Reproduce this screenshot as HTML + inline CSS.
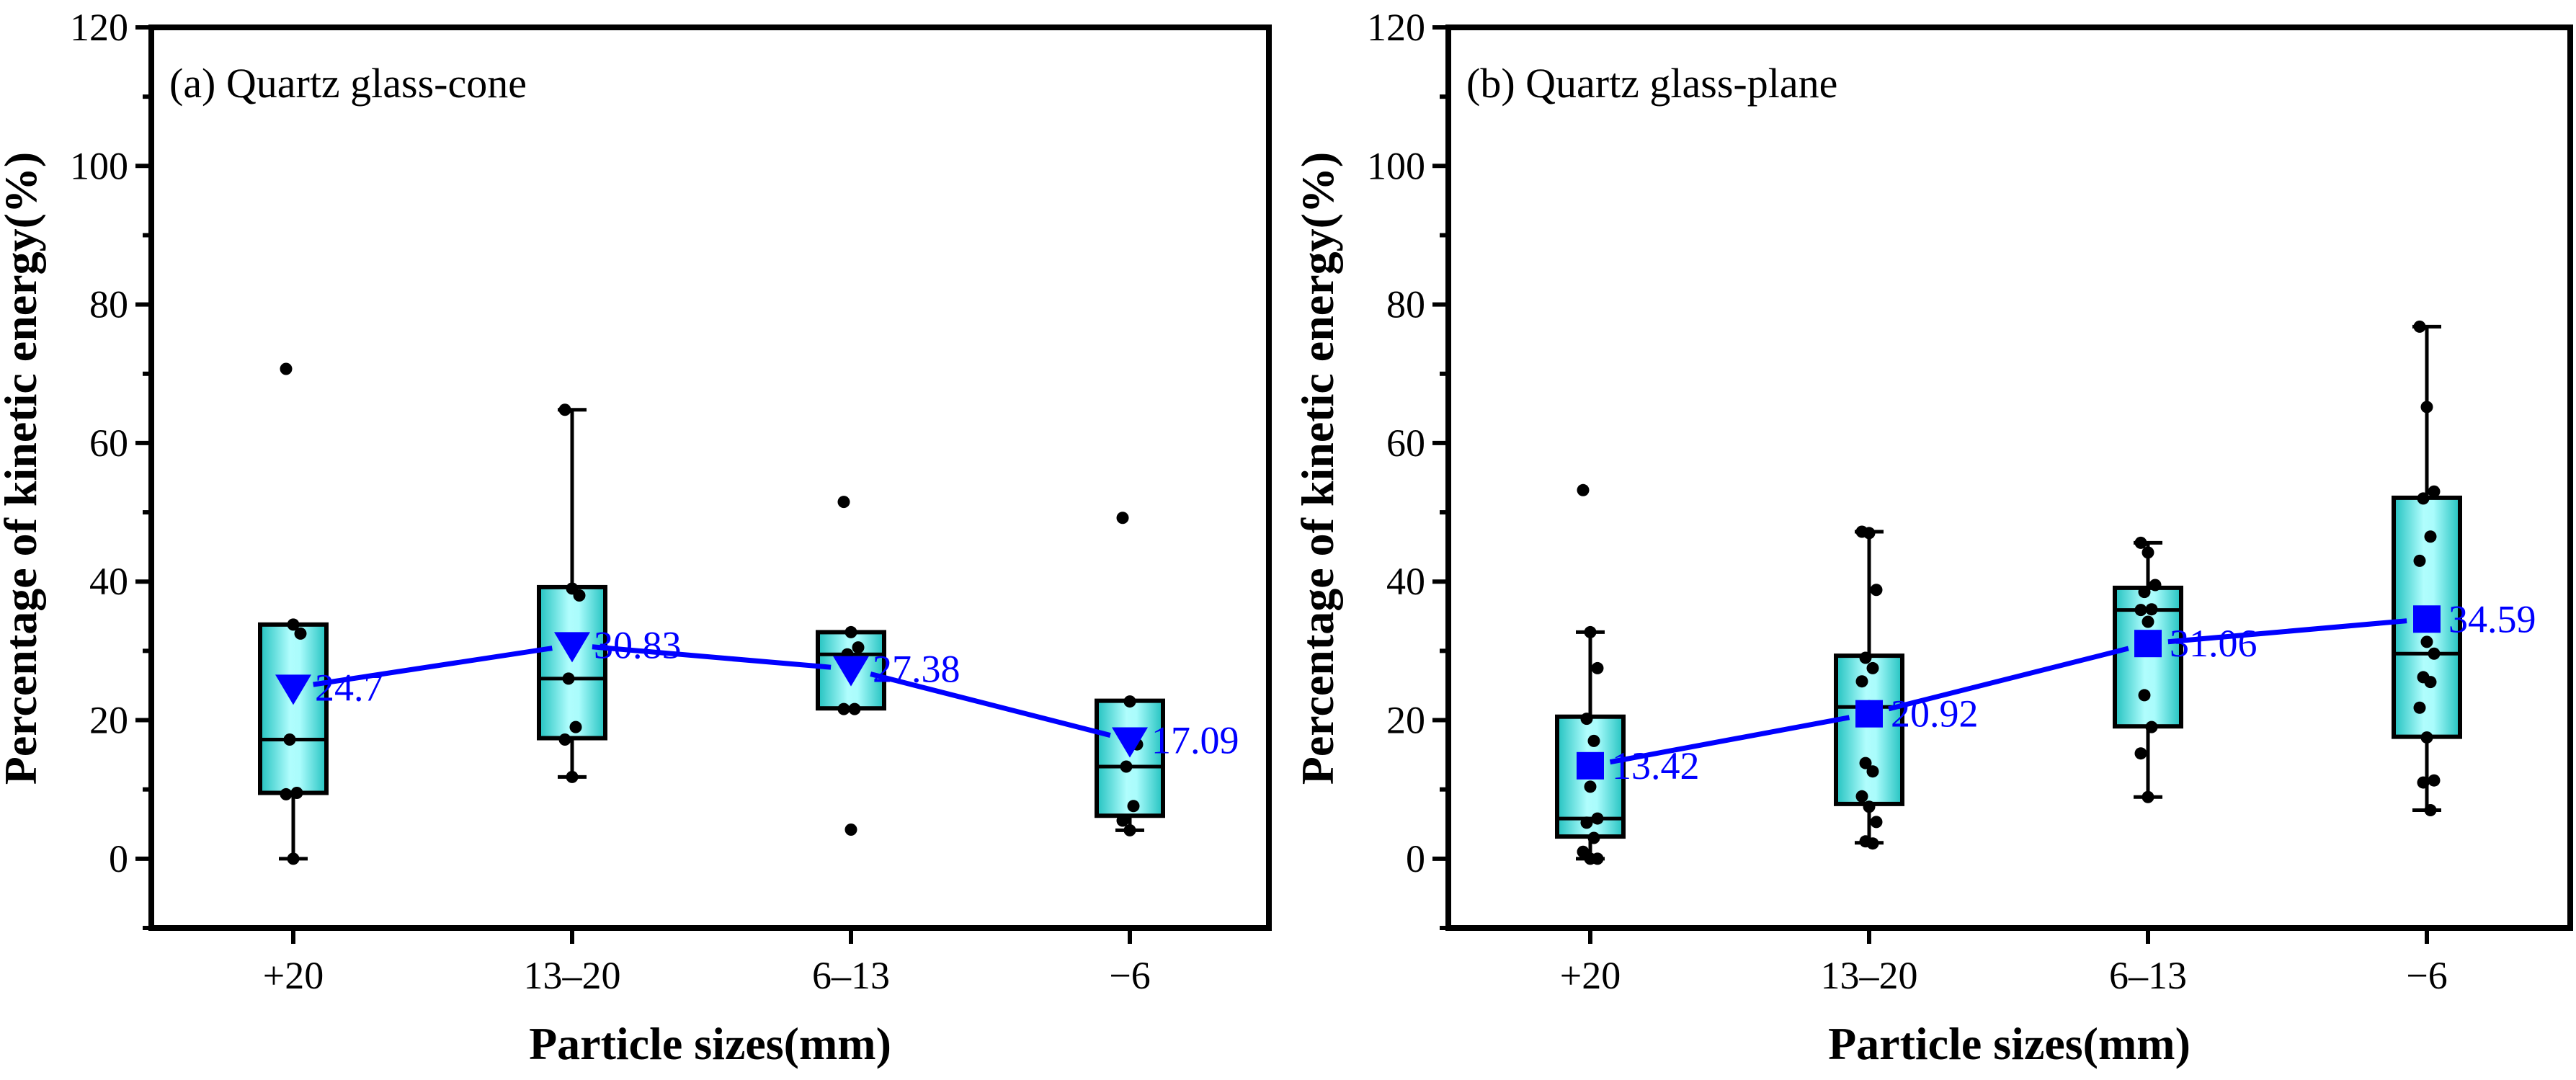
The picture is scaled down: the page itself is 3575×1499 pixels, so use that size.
<!DOCTYPE html>
<html><head><meta charset="utf-8"><style>
html,body{margin:0;padding:0;background:#fff}
svg, svg text{font-family:"Liberation Serif","Times New Roman",serif}
</style></head><body>
<svg id="chart" width="3575" height="1494" viewBox="0 0 3575 1494" xmlns="http://www.w3.org/2000/svg" font-family="Liberation Serif, serif">
<defs>
<linearGradient id="boxgrad" x1="0" x2="1" y1="0" y2="0">
<stop offset="0" stop-color="#22c2c0"/><stop offset="0.45" stop-color="#b0fdfd"/><stop offset="0.6" stop-color="#aafcfc"/><stop offset="1" stop-color="#22c2c0"/>
</linearGradient>
</defs>
</svg>
<script>
const categories = ["+20","13\u201320","6\u201313","\u22126"];
const yTicks = [0,20,40,60,80,100,120];
const titleA = "(a) Quartz glass-cone";
const titleB = "(b) Quartz glass-plane";
// panel A
const a_q1 = [9.5,17.4,21.7,6.2];
const a_med = [17.2,26,29.5,13.3];
const a_q3 = [33.8,39.2,32.7,22.8];
const a_wlo = [0,11.8,21.7,4.1];
const a_whi = [33.8,64.8,32.7,22.8];
const a_mean = [24.7,30.83,27.38,17.09];
const a_pts = [[70.7,33.8,32.5,17.2,9.5,9.3,0],[64.8,39,38,26,19,17.2,11.8],[51.5,32.7,30.5,29.5,21.6,21.6,4.2],[49.2,22.7,16.5,13.3,7.6,5.5,4.1]];
// panel B
const b_q1 = [3.2,7.9,19.1,17.6];
const b_med = [5.8,21.9,35.9,29.6];
const b_q3 = [20.5,29.3,39.1,52.1];
const b_wlo = [0,2.3,8.9,7];
const b_whi = [32.7,47.2,45.6,76.8];
const b_mean = [13.42,20.92,31.06,34.59];
const b_pts = [[53.2,32.7,27.5,20.2,17,13.8,10.4,5.8,5.2,3,1,0,0],[47.2,47,38.8,29,27.5,25.6,22,21.5,13.8,12.6,9,7.5,5.3,2.5,2.2],[45.6,44.2,39.5,38.5,36,35.9,34.2,32,23.6,19,15.2,8.9],[76.8,65.2,53,52,46.5,43,31.3,29.6,26.2,25.5,21.8,17.5,11.3,11,7]];

const svg = document.getElementById('chart');
const NS = "http://www.w3.org/2000/svg";
const FF = '"Liberation Serif", serif';
function mk(tag, attrs, parent){const e=document.createElementNS(NS,tag);for(const k in attrs)e.setAttribute(k,attrs[k]);if(tag==='text')e.style.fontFamily=FF;(parent||svg).appendChild(e);return e;}

function panel(p){
  const L=p.left,R=p.right,T=38,B=1288;
  const yMin=-10,yMax=120;
  const y=v=>T+(yMax-v)/(yMax-yMin)*(B-T);
  const x=i=>L+197+i*387;
  const g=mk('g',{});
  
  
  for(let v=-10; v<=120; v+=10){
    const major = yTicks.includes(v);
    const t=mk('line',{x1:L-(major?22:12),x2:L,y1:y(v),y2:y(v),stroke:'#000','stroke-width':6},g);
    
    
  }
  yTicks.forEach(v=>{
    const t=mk('text',{x:L-32,y:y(v)+18,'text-anchor':'end','font-size':54,fill:'#000'},g);
    t.textContent=v;
    
    
  });
  categories.forEach((c,i)=>{
    const t=mk('line',{x1:x(i),x2:x(i),y1:B,y2:B+22,stroke:'#000','stroke-width':6},g);
    
    
    const l=mk('text',{x:x(i),y:1372,'text-anchor':'middle','font-size':54,fill:'#000'},g);
    l.textContent=c;
    
    
  });
  const bw=92;
  categories.forEach((c,i)=>{
    const cx=x(i);
    const w=mk('line',{x1:cx,x2:cx,y1:y(p.whi[i]),y2:y(p.wlo[i]),stroke:'#000','stroke-width':5},g);
    
    
    [p.whi[i],p.wlo[i]].forEach(v=>{
      const cap=mk('line',{x1:cx-20,x2:cx+20,y1:y(v),y2:y(v),stroke:'#000','stroke-width':5},g);
      
      
    });
    const r=mk('rect',{x:cx-bw/2,y:y(p.q3[i]),width:bw,height:y(p.q1[i])-y(p.q3[i]),fill:'url(#boxgrad)',stroke:'#000','stroke-width':6},g);
    
    
    const m=mk('line',{x1:cx-bw/2,x2:cx+bw/2,y1:y(p.med[i]),y2:y(p.med[i]),stroke:'#000','stroke-width':5},g);
    
    
    p.pts[i].forEach((v,j)=>{
      const off=((j*7)%5-2)*5;
      const d=mk('circle',{cx:cx+off,cy:y(v),r:8.5,fill:'#000'},g);
      
      
    });
  });
  for(let i=0;i<categories.length-1;i++){
    const x1=x(i),y1=y(p.mean[i]),x2=x(i+1),y2=y(p.mean[i+1]);
    const len=Math.hypot(x2-x1,y2-y1),ux=(x2-x1)/len,uy=(y2-y1)/len,gap=28;
    const s=mk('line',{x1:x1+ux*gap,y1:y1+uy*gap,x2:x2-ux*gap,y2:y2-uy*gap,stroke:'#0000ff','stroke-width':7},g);
    
    
  }
  categories.forEach((c,i)=>{
    const cx=x(i),cy=y(p.mean[i]);
    let mkr;
    if(p.marker==='tri'){
      mkr=mk('polygon',{points:`${cx-25},${cy-18} ${cx+25},${cy-18} ${cx},${cy+24}`,fill:'#0000ff'},g);
    } else {
      mkr=mk('rect',{x:cx-19,y:cy-19,width:38,height:38,fill:'#0000ff'},g);
    }
    
    
    const t=mk('text',{x:cx+30,y:cy+18,'font-size':54,fill:'#0000ff'},g);
    t.textContent=p.mean[i];
    
    
  });
  const f=mk('rect',{x:L,y:T,width:R-L,height:B-T,fill:'none',stroke:'#000','stroke-width':8},g);
  
  
  const tt=mk('text',{x:L+25,y:135,'font-size':58,fill:'#000'},g);
  tt.textContent=p.title;
  
  
  const xt=mk('text',{x:(L+R)/2,y:1470,'text-anchor':'middle','font-size':64,'font-weight':'bold',fill:'#000'},g);
  xt.textContent="Particle sizes(mm)";
  
  
  const yx=p.left-160, yc=650;
  const yt=mk('text',{x:yx,y:yc,'text-anchor':'middle','font-size':64,'font-weight':'bold',fill:'#000',transform:`rotate(-90 ${yx} ${yc})`},g);
  yt.textContent="Percentage of kinetic energy(%)";
  
  
}
panel({name:'panel-a',left:210,right:1761,title:titleA,marker:'tri',q1:a_q1,med:a_med,q3:a_q3,wlo:a_wlo,whi:a_whi,mean:a_mean,pts:a_pts});
panel({name:'panel-b',left:2010,right:3567,title:titleB,marker:'sq',q1:b_q1,med:b_med,q3:b_q3,wlo:b_wlo,whi:b_whi,mean:b_mean,pts:b_pts});
</script>
</body></html>
